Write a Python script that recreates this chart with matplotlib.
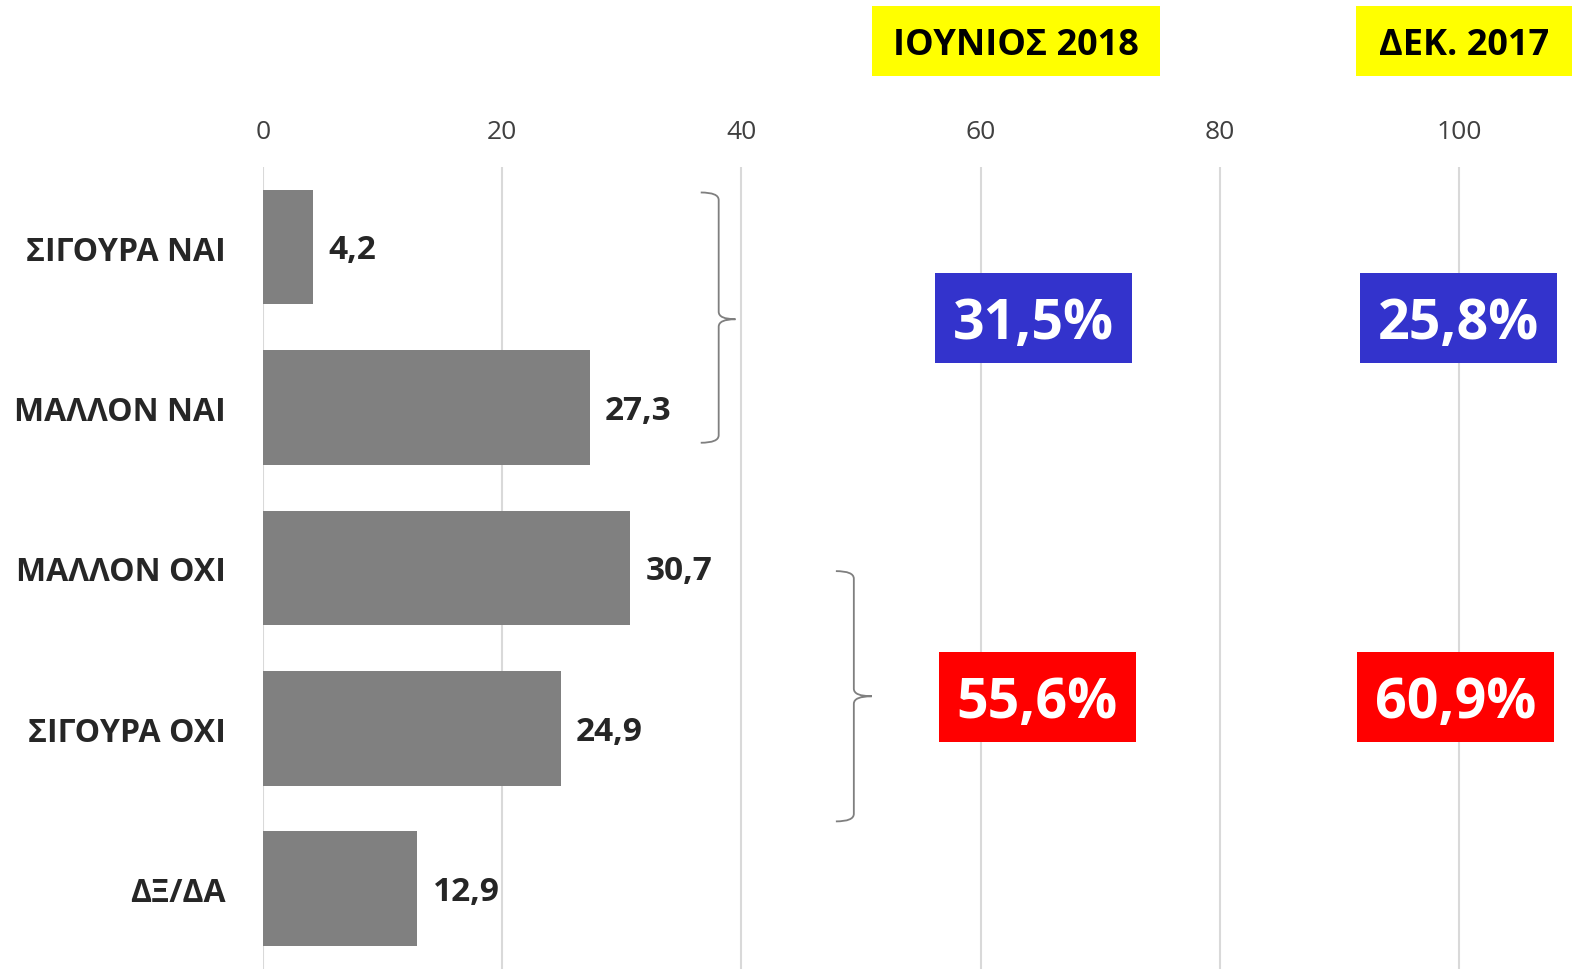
import matplotlib
matplotlib.use("Agg")
import matplotlib.pyplot as plt
from matplotlib.patches import Rectangle
from matplotlib.path import Path
from matplotlib.patches import PathPatch

categories = ["ΣΙΓΟΥΡΑ ΝΑΙ", "ΜΑΛΛΟΝ ΝΑΙ", "ΜΑΛΛΟΝ ΟΧΙ", "ΣΙΓΟΥΡΑ ΟΧΙ", "ΔΞ/ΔΑ"]
values = [4.2, 27.3, 30.7, 24.9, 12.9]
value_labels = ["4,2", "27,3", "30,7", "24,9", "12,9"]
xticks = [0, 20, 40, 60, 80, 100]

periods = ["ΙΟΥΝΙΟΣ 2018", "ΔΕΚ. 2017"]
yes_totals = ["31,5%", "25,8%"]
no_totals = ["55,6%", "60,9%"]

FONT = ["Open Sans", "DejaVu Sans"]
plt.rcParams["font.family"] = FONT

W, H = 1575, 970
fig = plt.figure(figsize=(W / 100, H / 100), dpi=100)
ax = fig.add_axes([0.167, 0.0, 0.833, 0.827])

ypos = list(range(len(categories)))
ax.barh(ypos, values, height=0.715, color="#808080", zorder=3)
ax.set_ylim(len(categories) - 0.5, -0.5)
ax.set_xlim(0, 109.7)

ax.set_xticks(xticks)
ax.xaxis.tick_top()
ax.tick_params(axis="x", length=0, pad=16.5, labelsize=19, labelcolor="#404040")
ax.set_yticks(ypos)
ax.set_yticklabels(categories, fontsize=23, fontweight="bold", color="#262626")
ax.tick_params(axis="y", length=0, pad=26.5)
ax.grid(axis="x", color="#d9d9d9", linewidth=1.5, zorder=0)
for s in ax.spines.values():
    s.set_visible(False)

for y, v, lab in zip(ypos, values, value_labels):
    ax.annotate(lab, (v, y), xytext=(11, -2), textcoords="offset points",
                ha="left", va="center", fontsize=24, fontweight="bold", color="#262626")

# braces (curly) in data coordinates
def brace(x0, x1, xt, ytop, ybot, ymid):
    r = (ybot - ytop) * 0.03
    verts = [
        (x0, ytop), (x1, ytop), (x1, ytop + r),
        (x1, ymid - r), (x1, ymid), (xt, ymid),
        (x1, ymid), (x1, ymid + r),
        (x1, ybot - r), (x1, ybot), (x0, ybot),
    ]
    codes = [Path.MOVETO, Path.CURVE3, Path.CURVE3,
             Path.LINETO, Path.CURVE3, Path.CURVE3,
             Path.CURVE3, Path.CURVE3,
             Path.LINETO, Path.CURVE3, Path.CURVE3]
    ax.add_patch(PathPatch(Path(verts, codes), fill=False, edgecolor="#7f7f7f",
                           linewidth=1.3, zorder=4, clip_on=False))

brace(36.6, 38.1, 39.5, 0 - 0.34, 1 + 0.22, 0.45)
brace(47.9, 49.4, 50.9, 2 + 0.02, 3 + 0.58, 2.80)

# header and total boxes (figure coords); text placed on baseline so caps are centred
CAP = 0.714
def box(x0, y0, w, h, color, text, tcolor, size):
    fig.patches.append(Rectangle((x0, y0), w, h, transform=fig.transFigure,
                                 facecolor=color, edgecolor="none", zorder=5))
    cap_px = size * 100 / 72 * CAP
    yb = y0 + h / 2 - (cap_px / 2) / H
    fig.text(x0 + w / 2, yb, text, ha="center", va="baseline",
             fontsize=size, fontweight="bold", color=tcolor, zorder=6)

box(0.5536, 0.9205, 0.1829, 0.0722, "#ffff00", periods[0], "#000000", 26)
box(0.8610, 0.9205, 0.1370, 0.0722, "#ffff00", periods[1], "#000000", 26)
box(0.5937, 0.6247, 0.1250, 0.0928, "#3333cc", yes_totals[0], "#ffffff", 40)
box(0.8635, 0.6247, 0.1250, 0.0928, "#3333cc", yes_totals[1], "#ffffff", 40)
box(0.5960, 0.2340, 0.1250, 0.0928, "#ff0000", no_totals[0], "#ffffff", 40)
box(0.8616, 0.2340, 0.1250, 0.0928, "#ff0000", no_totals[1], "#ffffff", 40)

fig.savefig("out.png", dpi=100, facecolor="white")
